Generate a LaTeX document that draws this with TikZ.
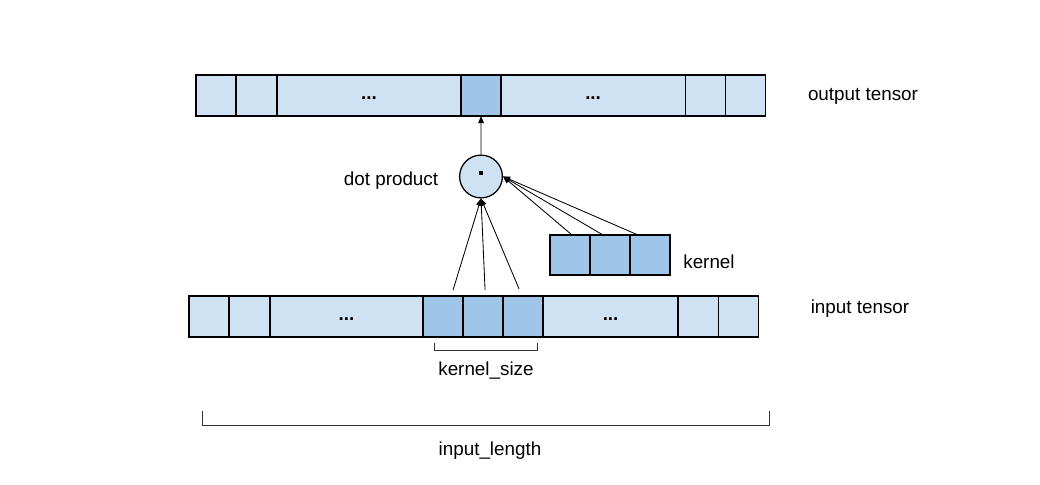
\documentclass[tikz,border=0pt]{standalone}
\usepackage{fontspec}
\setmainfont{Liberation Sans}
\usetikzlibrary{positioning,arrows.meta,calc}
\definecolor{cellblue}{HTML}{CFE2F3}
\definecolor{darkblue}{HTML}{9FC5E8}
\tikzset{
    cell/.style={draw, line width=0.9pt, fill=cellblue, inner sep=0, outer sep=0,
        minimum height=1.025cm, minimum width=1cm, text height=6pt, text depth=0pt,
        font=\fontsize{13.4}{16}\selectfont\bfseries},
    hot/.style={cell, fill=darkblue},
    arr/.style={-{Triangle[length=5pt,width=4pt]}, line width=0.6pt},
    brace/.style={line width=0.6pt, black!80},
    lbl/.style={font=\fontsize{13.4}{16}\selectfont}
}
\begin{document}
\begin{tikzpicture}[x=0.025cm, y=-0.025cm, node distance=0pt]
\useasboundingbox (0,0) rectangle (1040,485);

% output tensor
\node[cell, anchor=west] (o1) at (196,95.5) {};
\node[cell, minimum width=1.025cm, right=of o1] (o2) {};
\node[cell, minimum width=4.6cm, right=of o2] (o3) {...};
\node[hot, right=of o3] (o4) {};
\node[cell, minimum width=4.6cm, right=of o4] (o5) {...};
\node[cell, right=of o5] (o6) {};
\node[cell, right=of o6] (o7) {};

% input tensor
\node[cell, anchor=west] (i1) at (189,316.5) {};
\node[cell, minimum width=1.025cm, right=of i1] (i2) {};
\node[cell, minimum width=3.825cm, right=of i2] (i3) {...};
\node[hot, right=of i3] (i4) {};
\node[hot, right=of i4] (i5) {};
\node[hot, right=of i5] (i6) {};
\node[cell, minimum width=3.375cm, right=of i6] (i7) {...};
\node[cell, right=of i7] (i8) {};
\node[cell, right=of i8] (i9) {};

% kernel
\node[hot, minimum height=1cm, anchor=west] (k1) at (550,255) {};
\node[hot, minimum height=1cm, right=of k1] (k2) {};
\node[hot, minimum height=1cm, right=of k2] (k3) {};

% dot product
\node[draw, circle, line width=0.9pt, fill=cellblue, minimum size=1.07cm, inner sep=0] (dp) at (481,176.5) {};
\fill ($(dp.center)+(-2,-5.5)$) rectangle ++(4,4);

\draw[arr] (dp.north) -- (o4.south);
\draw[arr] ($(i4.north)+(10,-6)$) -- (dp.south);
\draw[arr] ($(i5.north)+(2,-6)$) -- (dp.south);
\draw[arr] ($(i6.north)+(-4,-7)$) -- (dp.south);
\draw[arr] ($(k1.north)+(2,0)$) -- (dp.east);
\draw[arr] ($(k2.north)+(-7,0)$) -- (dp.east);
\draw[arr] ($(k3.north)+(-12,0)$) -- (dp.east);

% brackets
\draw[brace] (434,343) -- (434,350.5) -- (537,350.5) -- (537,343);
\draw[brace] (202,411) -- (202,425) -- (769,425) -- (769,411);

\node[lbl] (outlbl) at (863,96) {output tensor};
\node[lbl] (inlbl) at (860,309) {input tensor};
\node[lbl] (dotlbl) at (391,181) {dot product};
\node[lbl] (klbl) at (709,262) {kernel};
\node[lbl] (kslbl) at (486,371) {kernel\_size};
\node[lbl] (illbl) at (490,451) {input\_length};
\end{tikzpicture}
\end{document}
